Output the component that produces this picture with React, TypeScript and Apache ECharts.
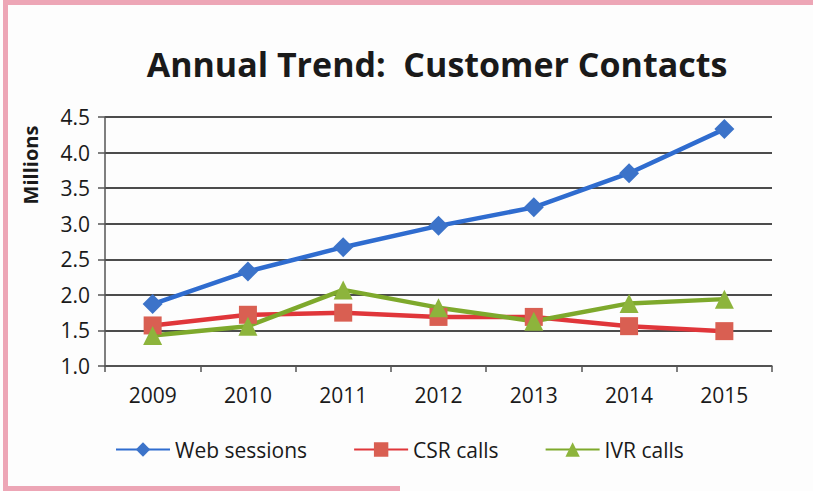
import React, { useEffect, useRef } from "react";
import * as echarts from "echarts";

const years = ["2009", "2010", "2011", "2012", "2013", "2014", "2015"];
const webSessions = [1.87, 2.33, 2.67, 2.97, 3.23, 3.71, 4.33];
const csrCalls = [1.57, 1.72, 1.75, 1.69, 1.69, 1.56, 1.49];
const ivrCalls = [1.43, 1.56, 2.07, 1.82, 1.63, 1.88, 1.94];

const FONT = "'Open Sans', 'Noto Sans', sans-serif";

export default function App() {
  const ref = useRef<HTMLDivElement>(null);
  useEffect(() => {
    const chart = echarts.init(ref.current!, null, { renderer: "svg" });
    chart.setOption({
      animation: false,
      backgroundColor: "#fdfdfd",
      title: {
        text: "Annual Trend:  Customer Contacts",
        left: 432,
        textAlign: "center",
        top: 42,
        textStyle: { fontFamily: FONT, fontWeight: "bold", fontSize: 34, color: "#1a1a1a" },
      },
      graphic: [
        {
          type: "polyline",
          shape: { points: [[813, 2.5], [5.5, 2.5], [5.5, 488.5], [400, 488.5]] },
          style: { fill: "none", stroke: "#eda6b6", lineWidth: 5 },
          silent: true,
        },
        {
          type: "text",
          x: 30,
          y: 165,
          rotation: Math.PI / 2,
          style: {
            text: "Millions",
            fontFamily: FONT,
            fontWeight: "bold",
            fontSize: 20,
            fill: "#1a1a1a",
            textAlign: "center",
            textVerticalAlign: "middle",
          },
        },
      ],
      grid: { left: 105, right: 41, top: 117, bottom: 125 },
      legend: {
        bottom: 26,
        left: 110,
        itemWidth: 54,
        itemHeight: 18,
        itemGap: 46,
        textStyle: { fontFamily: FONT, fontSize: 21, color: "#1a1a1a" },
        data: ["Web sessions", "CSR calls", "IVR calls"],
      },
      xAxis: {
        type: "category",
        data: years,
        boundaryGap: true,
        axisLine: { lineStyle: { color: "#555", width: 1.5 } },
        axisTick: { show: true, length: 6, lineStyle: { color: "#555", width: 1.5 } },
        axisLabel: { fontFamily: FONT, fontSize: 21, color: "#1a1a1a", margin: 18 },
      },
      yAxis: {
        type: "value",
        min: 1.0,
        max: 4.5,
        interval: 0.5,
        axisLine: { show: true, lineStyle: { color: "#555", width: 1.5 } },
        axisTick: { show: true, length: 7, lineStyle: { color: "#555", width: 1.5 } },
        axisLabel: {
          fontFamily: FONT,
          fontSize: 21,
          color: "#1a1a1a",
          margin: 15,
          formatter: (v: number) => v.toFixed(1),
        },
        splitLine: { lineStyle: { color: "#111", width: 1.6 } },
      },
      series: [
        {
          name: "Web sessions",
          type: "line",
          data: webSessions,
          symbol: "diamond",
          symbolSize: 20,
          lineStyle: { color: "#2f6ccf", width: 4.5 },
          itemStyle: { color: "#3c73c9" },
        },
        {
          name: "CSR calls",
          type: "line",
          data: csrCalls,
          symbol: "rect",
          symbolSize: 18,
          lineStyle: { color: "#e0363a", width: 4.5 },
          itemStyle: { color: "#d95f52" },
        },
        {
          name: "IVR calls",
          type: "line",
          data: ivrCalls,
          symbol: "triangle",
          symbolSize: 19,
          lineStyle: { color: "#7ea92c", width: 4.5 },
          itemStyle: { color: "#8db43c" },
        },
      ],
    });
    return () => chart.dispose();
  }, []);
  return (
    <div style={{ position: "fixed", left: 0, top: 0, width: 813, height: 491 }}>
      <div ref={ref} style={{ width: 813, height: 491 }} />
    </div>
  );
}
